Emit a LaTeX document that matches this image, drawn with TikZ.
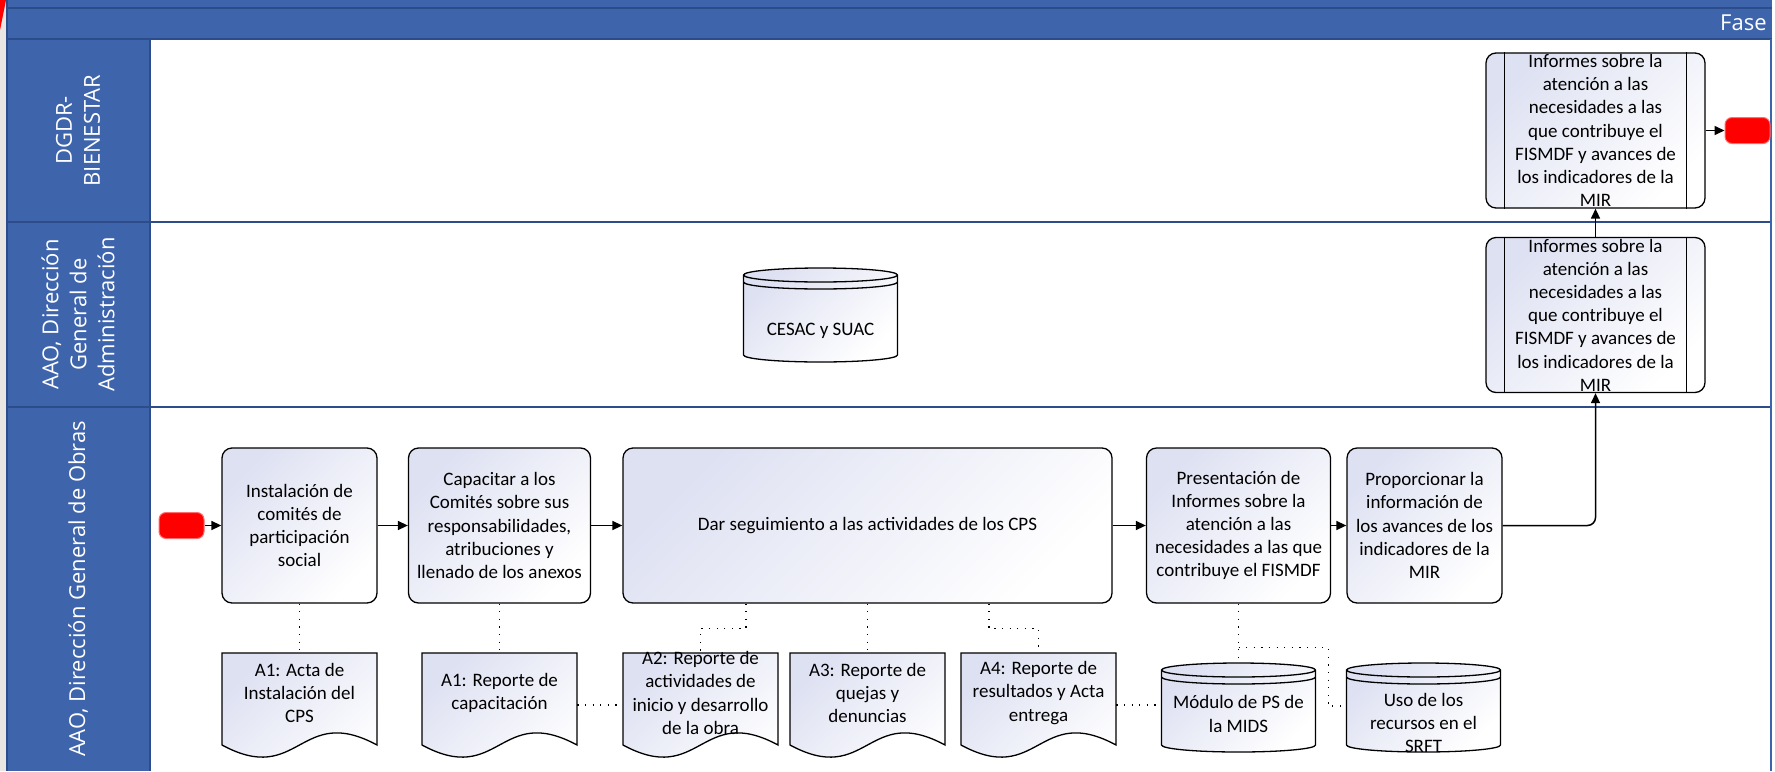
\documentclass[tikz,border=0pt]{standalone}
\usepackage{fontspec}
\setmainfont{Carlito}
\newfontfamily\lanefont{Open Sans}
\usetikzlibrary{arrows.meta,backgrounds}
\definecolor{laneblue}{RGB}{62,100,172}
\definecolor{laneline}{RGB}{44,76,138}
\definecolor{boxfill}{RGB}{222,225,242}
\definecolor{margin}{RGB}{234,230,227}
\definecolor{termred}{RGB}{255,0,0}
\definecolor{termedge}{RGB}{255,110,110}

\begin{document}
\begin{tikzpicture}[x=0.5pt,y=-0.5pt,
  every node/.style={font=\fontsize{9.5}{11.6}\selectfont,align=center,inner sep=0pt},
  lanelab/.style={font=\lanefont\fontsize{11}{14}\selectfont,text=white,rotate=90},
  term/.style={fill=termred,draw=termedge,line width=0.5pt,rounded corners=3.5pt,minimum width=22.5pt,minimum height=13pt},
  proc/.style={draw,line width=0.65pt,rounded corners=5pt,top color=boxfill,bottom color=white,shading angle=45,minimum width=#1,minimum height=77.5pt},
  subproc/.style={proc=109.5pt},
  docu/.style={minimum width=77.5pt,minimum height=40pt},
  cyl/.style={minimum width=77pt},
  shapeline/.style={draw,line width=0.65pt,top color=boxfill,bottom color=white,shading angle=45},
  flow/.style={line width=0.75pt,-{Triangle[length=5pt,width=4.5pt]}},
  assoc/.style={line width=0.6pt,dash pattern=on 0.6pt off 3.2pt}]
\useasboundingbox (0,0) rectangle (1775,771);
\fill[margin] (0,0) rectangle (7,771);
\fill[termred] (0,0) -- (6,0) -- (0,30) -- cycle;
\fill[laneblue] (7,0) rectangle (1772,39);
\fill[laneblue] (7,39) rectangle (150,771);
\draw[laneline,line width=0.6pt] (7,8) -- (1772,8);
\draw[laneline,line width=0.8pt] (7,39) -- (1772,39) (7,222) -- (1771,222) (7,407) -- (1771,407);
\draw[laneline,line width=0.8pt] (150,39) -- (150,771);
\draw[laneline,line width=0.6pt] (7,0) -- (7,771);
\draw[laneblue,line width=1pt] (1771,39) -- (1771,771);

\node[font=\lanefont\fontsize{11}{12}\selectfont,text=white,anchor=east] (fase) at (1767,23) {Fase};
\node[lanelab] (l1) at (78,130.5) {DGDR-\\BIENESTAR};
\node[lanelab] (l2) at (78,314.5) {AAO, Dirección\\General de\\Administración};
\node[lanelab] (l3) at (78,589) {AAO, Dirección General de Obras};

\node[term] (ini) at (181.5,525.5) {};
\node[proc=77.5pt] (p1) at (299.5,525.5) {Instalación de\\comités de\\participación\\social};
\node[proc=91pt] (p2) at (499.5,525.5) {Capacitar a los\\Comités sobre sus\\responsabilidades,\\atribuciones y\\llenado de los anexos};
\node[proc=244.5pt] (p3) at (867.5,525.5) {Dar seguimiento a las actividades de los CPS};
\node[proc=92pt] (p4) at (1238.5,525.5) {Presentación de\\Informes sobre la\\atención a las\\necesidades a las que\\contribuye el FISMDF};
\node[proc=77.5pt] (p5) at (1424.5,525.5) {Proporcionar la\\información de\\los avances de los\\indicadores de la\\MIR};
\node[subproc] (inf2) at (1595.5,315) {Informes sobre la\\atención a las\\necesidades a las\\que contribuye el\\FISMDF y avances de\\los indicadores de la\\MIR};
\node[subproc] (inf1) at (1595.5,130.5) {Informes sobre la\\atención a las\\necesidades a las\\que contribuye el\\FISMDF y avances de\\los indicadores de la\\MIR};
\node[term] (fin) at (1747.5,130.5) {};
\foreach \n in {inf1,inf2}
  \draw[line width=0.65pt] ([xshift=9.5pt]\n.north west) -- ([xshift=9.5pt]\n.south west)
    ([xshift=-9.5pt]\n.north east) -- ([xshift=-9.5pt]\n.south east);

\node[docu] (d1) at (299.5,693) {A1: Acta de\\Instalación del\\CPS};
\node[docu] (d2) at (499.5,693) {A1: Reporte de\\capacitación};
\node[docu] (d3) at (700.5,693) {A2: Reporte de\\actividades de\\inicio y desarrollo\\de la obra};
\node[docu] (d4) at (867.5,693) {A3: Reporte de\\quejas y\\denuncias};
\node[docu] (d5) at (1038.5,693) {A4: Reporte de\\resultados y Acta\\entrega};
\node[cyl] (cesac) at (820.5,331) {CESAC y SUAC};
\node[cyl] (mids) at (1238.5,714) {Módulo de PS de\\la MIDS};
\node[cyl] (srft) at (1423.5,723) {Uso de los\\recursos en el\\SRFT};

\begin{scope}[on background layer]
\foreach \d in {d1,d2,d3,d4,d5}
  \draw[shapeline,shift={(\d.center)}] (-77.5,-40) -- (77.5,-40) -- (77.5,52)
    .. controls (0,10) and (0,94) .. (-77.5,52) -- cycle;
\foreach \c/\t/\b in {cesac/-56/24,mids/-44/31,srft/-53/22}{
  \draw[shapeline,shift={(\c.center)}] (-77,\t) -- (-77,\b)
    arc[start angle=180,end angle=360,x radius=38.5pt,y radius=3.5pt] -- (77,\t)
    arc[start angle=0,end angle=180,x radius=38.5pt,y radius=3.5pt] -- cycle;
  \draw[line width=0.65pt,shift={(\c.center)}]
    (-77,\t) arc[start angle=180,end angle=360,x radius=38.5pt,y radius=3.5pt]
    (-77,\t+7) arc[start angle=180,end angle=360,x radius=38.5pt,y radius=3.5pt];
}
\end{scope}

\foreach \a/\b in {ini/p1,p1/p2,p2/p3,p3/p4,p4/p5,inf2/inf1,inf1/fin}
  \draw[flow] (\a) -- (\b);
\draw[flow,rounded corners=4pt] (p5.east) -| (inf2.south);

\draw[assoc] (p1) -- (d1);
\draw[assoc] (p2) -- (d2);
\draw[assoc] ([yshift=-6pt]d2.east) -- ([yshift=-6pt]d3.west);
\draw[assoc] ([xshift=-60.75pt]p3.south) -- ++(0,25) -| (d3.north);
\draw[assoc] (p3) -- (d4);
\draw[assoc] ([xshift=60.75pt]p3.south) -- ++(0,25) -| (d5.north);
\draw[assoc] ([yshift=-6pt]d5.east) -- ([yshift=-6pt]d5.east -| mids.west);
\draw[assoc] (p4.south) -- ([yshift=25.5pt]mids.center);
\draw[assoc] ([yshift=-22pt]p4.south) -| ([xshift=-9pt,yshift=8.5pt]srft.west) -- ([yshift=8.5pt]srft.west);
\end{tikzpicture}
\end{document}
